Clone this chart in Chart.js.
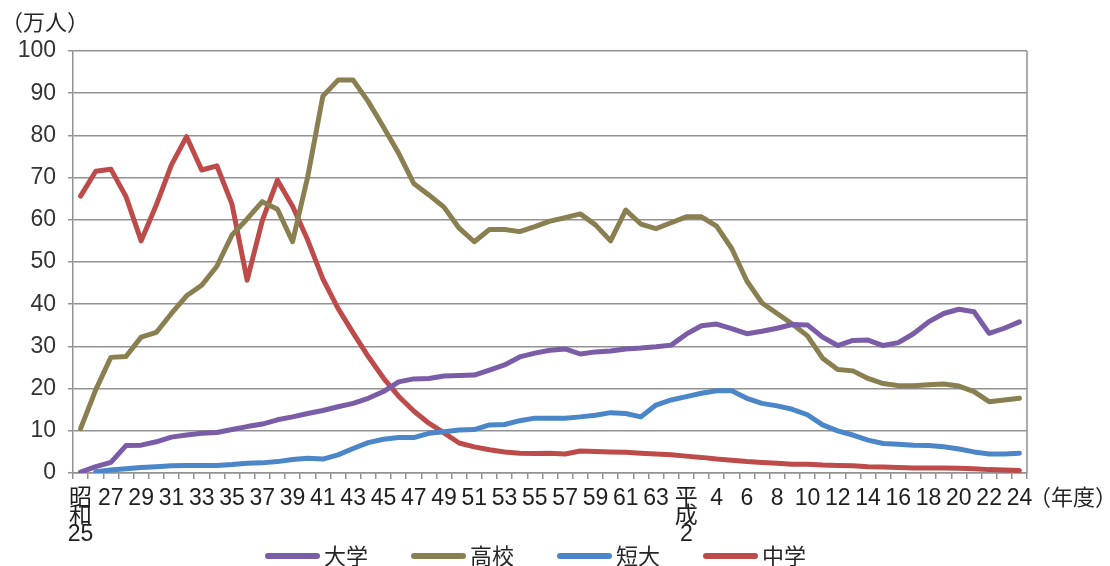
<!DOCTYPE html>
<html lang="ja">
<head>
<meta charset="utf-8">
<title>就職者数の推移</title>
<script src="https://cdn.jsdelivr.net/npm/chart.js@4/dist/chart.umd.min.js"></script>
<style>
  html, body { margin: 0; padding: 0; background: #ffffff; }
  #wrap { width: 1110px; height: 566px; }
</style>
</head>
<body>
<div id="wrap"><canvas id="c" width="1110" height="566"></canvas></div>
<script>
// 年度（昭和25〜平成24）— 奇数年は目盛りラベルなし
const yearLabels = [
  ['昭','和','25'], '', '27', '', '29', '', '31', '', '33', '', '35', '', '37', '', '39', '',
  '41', '', '43', '', '45', '', '47', '', '49', '', '51', '', '53', '', '55', '', '57', '',
  '59', '', '61', '', '63', '', ['平','成','2'], '', '4', '', '6', '', '8', '', '10', '',
  '12', '', '14', '', '16', '', '18', '', '20', '', '22', '', '24'
];

// 単位：万人
const daigaku = [
  0.2, 1.5, 2.5, 6.5, 6.6, 7.4, 8.5, 9.0, 9.4, 9.6, 10.3, 11.0, 11.6, 12.6, 13.3, 14.1,
  14.8, 15.7, 16.5, 17.7, 19.3, 21.6, 22.3, 22.4, 23.0, 23.1, 23.2, 24.4, 25.6, 27.5, 28.4, 29.1,
  29.4, 28.2, 28.7, 28.9, 29.4, 29.6, 29.9, 30.3, 32.9, 34.9, 35.3, 34.2, 33.0, 33.6, 34.3, 35.2,
  35.1, 32.2, 30.2, 31.4, 31.5, 30.2, 30.9, 33.0, 35.8, 37.8, 38.8, 38.2, 33.1, 34.3, 35.8
];
const koukou = [
  10.5, 19.7, 27.4, 27.6, 32.2, 33.3, 37.8, 42.0, 44.5, 49.0, 56.4, 60.2, 64.3, 62.5, 54.8, 70.2,
  89.3, 93.1, 93.1, 88.0, 82.0, 75.8, 68.6, 65.9, 63.0, 58.0, 54.8, 57.7, 57.7, 57.2, 58.4, 59.7,
  60.5, 61.4, 58.8, 55.0, 62.3, 59.0, 57.9, 59.3, 60.7, 60.7, 58.5, 53.2, 45.5, 40.3, 37.8, 35.3,
  32.5, 27.2, 24.5, 24.2, 22.4, 21.2, 20.7, 20.7, 20.9, 21.1, 20.6, 19.3, 16.9, 17.3, 17.7
];
const tandai = [
  null, 0.3, 0.7, 1.0, 1.3, 1.5, 1.7, 1.8, 1.8, 1.8, 2.0, 2.3, 2.4, 2.7, 3.2, 3.5,
  3.3, 4.3, 5.8, 7.2, 8.0, 8.4, 8.4, 9.4, 9.8, 10.2, 10.3, 11.4, 11.5, 12.4, 13.0, 13.0,
  13.0, 13.3, 13.7, 14.3, 14.1, 13.3, 16.1, 17.3, 18.1, 18.9, 19.5, 19.5, 17.7, 16.5, 15.9, 15.1,
  13.8, 11.4, 10.0, 9.0, 7.8, 7.0, 6.8, 6.6, 6.5, 6.2, 5.7, 5.0, 4.5, 4.5, 4.7
];
const chuugaku = [
  65.6, 71.5, 72.0, 65.5, 55.0, 63.5, 73.0, 79.7, 71.8, 72.8, 63.7, 45.7, 59.8, 69.4, 63.2, 55.2,
  46.0, 39.0, 33.2, 27.6, 22.5, 18.2, 14.7, 11.8, 9.5, 7.1, 6.2, 5.5, 5.0, 4.7, 4.6, 4.7,
  4.5, 5.2, 5.1, 5.0, 4.9, 4.7, 4.5, 4.3, 4.0, 3.7, 3.3, 3.0, 2.7, 2.5, 2.3, 2.1,
  2.1, 1.9, 1.8, 1.7, 1.5, 1.4, 1.3, 1.2, 1.2, 1.2, 1.1, 1.0, 0.8, 0.7, 0.6
];

const seriesNames = ['大学', '高校', '短大', '中学'];
const seriesColors = ['#7b5ca6', '#8a7f50', '#4b86c9', '#bd4b4a'];

const GRID = '#929292';
const NUM_FONT = '"Liberation Sans Narrow", "Liberation Sans", "Noto Sans CJK JP", sans-serif';
const JP_FONT = '"Noto Sans CJK JP", "Noto Sans", sans-serif';

function lineSet(label, data, color) {
  return {
    label, data,
    borderColor: color,
    backgroundColor: color,
    borderWidth: 5,
    borderJoinStyle: 'round',
    borderCapStyle: 'round',
    pointRadius: 0,
    pointHoverRadius: 0,
    tension: 0,
    spanGaps: false
  };
}

// 枠線の右辺、単位ラベル、凡例を描く
const decorations = {
  id: 'decorations',
  beforeDatasetsDraw(chart) {
    const { ctx, chartArea } = chart;
    ctx.save();
    ctx.strokeStyle = GRID;
    ctx.lineWidth = 1.5;
    ctx.beginPath();
    ctx.moveTo(chartArea.right, chartArea.top);
    ctx.lineTo(chartArea.right, chartArea.bottom);
    ctx.stroke();
    ctx.restore();
  },
  afterDraw(chart) {
    const { ctx, chartArea } = chart;
    ctx.save();
    ctx.fillStyle = '#262626';
    ctx.textBaseline = 'middle';
    ctx.textAlign = 'left';
    ctx.font = '22px ' + JP_FONT;
    ctx.fillText('（万人）', 1, 22);
    ctx.fillText('（年度）', chartArea.right + 2, 497);

    // 凡例
    const startX = 265, stepX = 146, legendY = 556;
    chart.data.datasets.forEach((ds, i) => {
      const x0 = startX + i * stepX;
      ctx.strokeStyle = ds.borderColor;
      ctx.lineWidth = 6;
      ctx.lineCap = 'round';
      ctx.beginPath();
      ctx.moveTo(x0 + 3, legendY);
      ctx.lineTo(x0 + 52, legendY);
      ctx.stroke();
      ctx.fillStyle = '#262626';
      ctx.font = '22px ' + JP_FONT;
      ctx.fillText(ds.label, x0 + 59, legendY);
    });
    ctx.restore();
  }
};

new Chart(document.getElementById('c'), {
  type: 'line',
  data: {
    labels: yearLabels,
    datasets: [
      lineSet(seriesNames[0], daigaku, seriesColors[0]),
      lineSet(seriesNames[1], koukou, seriesColors[1]),
      lineSet(seriesNames[2], tandai, seriesColors[2]),
      lineSet(seriesNames[3], chuugaku, seriesColors[3])
    ]
  },
  options: {
    responsive: false,
    animation: false,
    devicePixelRatio: 1,
    layout: { padding: { left: 0, right: 83, top: 51, bottom: 0 } },
    plugins: {
      legend: { display: false },
      tooltip: { enabled: false },
      title: { display: false }
    },
    scales: {
      x: {
        type: 'category',
        offset: true,
        afterFit(scale) { scale.height = 93; },
        grid: {
          offset: true,
          drawOnChartArea: false,
          drawTicks: true,
          tickLength: 6,
          color: GRID,
          lineWidth: 1.5
        },
        border: { display: true, color: GRID, width: 1.5 },
        ticks: {
          autoSkip: false,
          maxRotation: 0,
          minRotation: 0,
          padding: 11,
          color: '#1f1f1f',
          font: { family: NUM_FONT, size: 23, lineHeight: '18px' }
        }
      },
      y: {
        min: 0,
        max: 100,
        afterFit(scale) { scale.width = 73; },
        grid: {
          color: GRID,
          lineWidth: 1.5,
          drawTicks: true,
          tickLength: 5
        },
        border: { display: true, color: GRID, width: 1.5 },
        ticks: {
          stepSize: 10,
          padding: 12,
          color: '#333333',
          font: { family: NUM_FONT, size: 23 }
        }
      }
    }
  },
  plugins: [decorations]
});
</script>
</body>
</html>
